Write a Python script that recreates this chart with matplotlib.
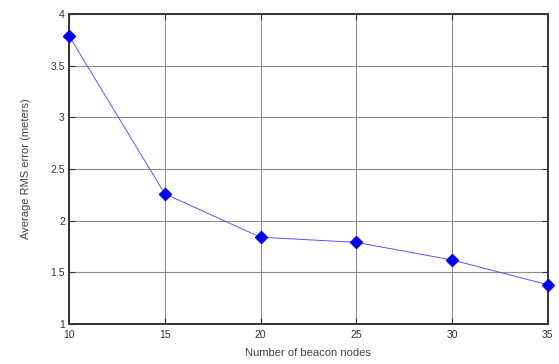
import matplotlib
matplotlib.use("Agg")
import matplotlib.pyplot as plt

plt.rcParams['font.family'] = ['Liberation Sans', 'DejaVu Sans']

beacon_nodes = [10, 15, 20, 25, 30, 35]
rms_error = [3.79, 2.26, 1.84, 1.79, 1.62, 1.38]
x_ticks = [10, 15, 20, 25, 30, 35]
y_ticks = [1, 1.5, 2, 2.5, 3, 3.5, 4]
y_tick_labels = ['1', '1.5', '2', '2.5', '3', '3.5', '4']

fig = plt.figure(figsize=(5.59, 3.64), dpi=100)
ax = fig.add_axes([0.1234, 0.1099, 0.8566, 0.8516])

ax.plot(beacon_nodes, rms_error, color='#5555ff', linewidth=0.7,
        marker='D', markersize=6.5, markerfacecolor='#0000ee',
        markeredgecolor='#0000ee', zorder=3, clip_on=False)

ax.set_xlim(10, 35)
ax.set_ylim(1, 4)
ax.set_xticks(x_ticks)
ax.set_yticks(y_ticks)
ax.set_yticklabels(y_tick_labels)
ax.grid(True, color='#8c8c8c', linewidth=0.8)
ax.tick_params(direction='in', length=4, width=0.8, labelsize=7.5,
               colors='#333333', top=True, right=True)
ax.tick_params(axis='x', pad=4)
ax.tick_params(axis='y', pad=3)
for s in ax.spines.values():
    s.set_linewidth(1.4)
    s.set_color('#333333')

ax.set_xlabel('Number of beacon nodes', fontsize=8, color='#444444', labelpad=6)
ax.set_ylabel('Average RMS error (meters)', fontsize=8, color='#444444', labelpad=14)

fig.savefig('out.png', dpi=100)
